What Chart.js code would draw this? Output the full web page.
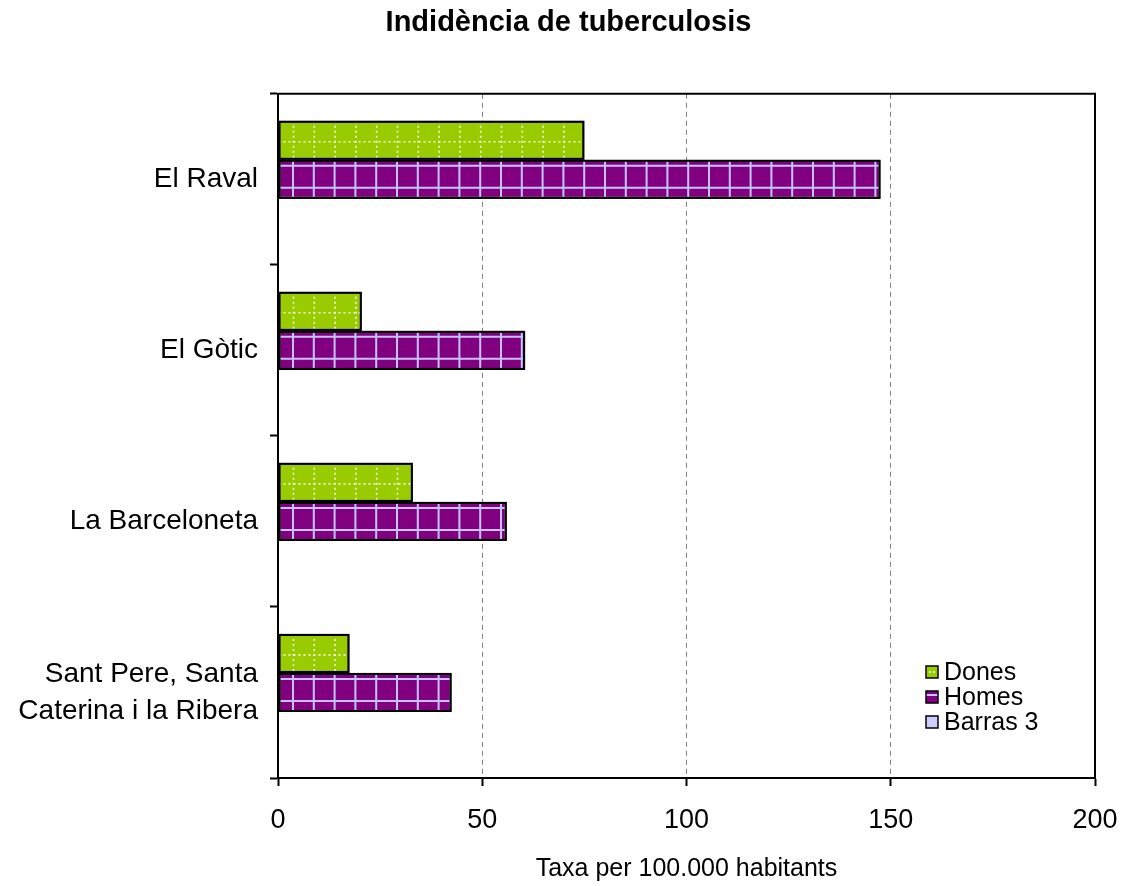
<!DOCTYPE html>
<html>
<head>
<meta charset="utf-8">
<title>Indidència de tuberculosis</title>
<script src="https://cdn.jsdelivr.net/npm/chart.js@4.4.1/dist/chart.umd.min.js"></script>
<style>
  body { margin: 0; background: #fff; }
  #wrap { width: 1122px; height: 886px; }
</style>
</head>
<body>
<div id="wrap"><canvas id="myChart" width="1122" height="886"></canvas></div>
<script>
const barris = [
  "El Raval",
  "El Gòtic",
  "La Barceloneta",
  ["Sant Pere, Santa", "Caterina i la Ribera"],
];
const dones = [75, 20.5, 33, 17.5];
const homes = [147.5, 60.5, 56, 42.5];
const barras3 = [null, null, null, null];
const xTicks = [0, 50, 100, 150, 200];

Chart.defaults.font.family = "'Liberation Sans', Arial, sans-serif";
Chart.defaults.color = "#000";

// patró de quadrícula sobre les barres (com a l'original d'Excel)
const texture = {
  id: "texture",
  afterLayout(chart) {
    // el títol original està una mica desplaçat cap a la dreta
    if (chart.titleBlock) chart.titleBlock.left = 42;
  },
  afterDatasetDraw(chart, args) {
    if (args.index > 1) return;
    const ctx = chart.ctx;
    const area = chart.chartArea;
    args.meta.data.forEach((bar) => {
      const p = bar.getProps(["x", "y", "base", "height"], true);
      const left = Math.min(p.base, p.x);
      const right = Math.max(p.base, p.x);
      const top = p.y - p.height / 2;
      const bottom = p.y + p.height / 2;
      ctx.save();
      ctx.beginPath();
      ctx.rect(left + 1.5, top + 1.5, right - left - 3, bottom - top - 3);
      ctx.clip();
      if (args.index === 0) {
        ctx.strokeStyle = "rgba(255,255,235,0.9)";
        ctx.lineWidth = 1.6;
        ctx.setLineDash([2, 3]);
        for (let x = area.left + 15.5; x < right; x += 20.8) {
          ctx.beginPath();
          ctx.moveTo(x, top);
          ctx.lineTo(x, bottom);
          ctx.stroke();
        }
        ctx.beginPath();
        ctx.moveTo(left, top + 21);
        ctx.lineTo(right, top + 21);
        ctx.stroke();
      } else {
        ctx.strokeStyle = "#C4C4FF";
        ctx.lineWidth = 2;
        for (let x = area.left + 15; x < right; x += 20.8) {
          ctx.beginPath();
          ctx.moveTo(x, top);
          ctx.lineTo(x, bottom);
          ctx.stroke();
        }
        [6, 28].forEach((d) => {
          ctx.beginPath();
          ctx.moveTo(left, top + d);
          ctx.lineTo(right, top + d);
          ctx.stroke();
        });
      }
      ctx.restore();
      ctx.save();
      ctx.strokeStyle = "#000";
      ctx.lineWidth = 2;
      ctx.strokeRect(left + 1, top + 1, right - left - 2, bottom - top - 2);
      ctx.restore();
    });
  },
};

// marc superior i dret + llegenda dins l'àrea
const frame = {
  id: "frame",
  afterDraw(chart) {
    const ctx = chart.ctx;
    const a = chart.chartArea;
    ctx.save();
    ctx.strokeStyle = "#000";
    ctx.lineWidth = 2;
    ctx.beginPath();
    ctx.moveTo(a.left, a.top);
    ctx.lineTo(a.right, a.top);
    ctx.lineTo(a.right, a.bottom);
    ctx.stroke();

    ctx.font = "25px 'Liberation Sans', Arial, sans-serif";
    ctx.textBaseline = "middle";
    ctx.textAlign = "left";
    chart.data.datasets.forEach((ds, i) => {
      const cy = a.bottom - 106 + i * 25;
      const bx = a.right - 169;
      ctx.fillStyle = ds.legendColor;
      ctx.fillRect(bx, cy - 6, 12, 12);
      if (i === 0) {
        ctx.fillStyle = "#E8F5B0";
        ctx.fillRect(bx + 3, cy - 1, 2, 2);
        ctx.fillRect(bx + 7, cy - 1, 2, 2);
      } else if (i === 1) {
        ctx.fillStyle = "#C4C4FF";
        ctx.fillRect(bx, cy - 3, 12, 2);
      }
      ctx.strokeStyle = "#000";
      ctx.lineWidth = 1.5;
      ctx.strokeRect(bx, cy - 6, 12, 12);
      ctx.fillStyle = "#000";
      ctx.fillText(ds.label, bx + 18, cy + 1);
    });
    ctx.restore();
  },
};

new Chart("myChart", {
  type: "bar",
  data: {
    labels: barris,
    datasets: [
      {
        label: "Dones",
        data: dones,
        backgroundColor: "#99CC00",
        legendColor: "#99CC00",
        borderColor: "#000",
        borderWidth: 2,
        borderSkipped: false,
      },
      {
        label: "Homes",
        data: homes,
        backgroundColor: "#800080",
        legendColor: "#800080",
        borderColor: "#000",
        borderWidth: 2,
        borderSkipped: false,
      },
      {
        label: "Barras 3",
        data: barras3,
        backgroundColor: "#CCCCFF",
        legendColor: "#CCCCFF",
        borderColor: "#000",
        borderWidth: 2,
      },
    ],
  },
  options: {
    indexAxis: "y",
    responsive: false,
    animation: false,
    datasets: {
      bar: { categoryPercentage: 0.685, barPercentage: 1 },
    },
    layout: { padding: { left: 0, right: 27, top: 0, bottom: 0 } },
    plugins: {
      legend: { display: false },
      tooltip: { enabled: false },
      title: {
        display: true,
        text: "Indidència de tuberculosis",
        color: "#000",
        font: { size: 29, weight: "bold" },
        padding: { top: 6, bottom: 53 },
      },
    },
    scales: {
      x: {
        min: 0,
        max: 200,
        afterBuildTicks: (scale) => {
          scale.ticks = xTicks.map((v) => ({ value: v }));
        },
        afterFit: (scale) => {
          scale.height = 108;
          scale.paddingLeft = 0;
          scale.paddingRight = 0;
        },
        grid: {
          color: "#808080",
          lineWidth: 1,
          tickColor: "#000",
          tickWidth: 2,
          tickLength: 8,
        },
        border: { display: true, color: "#000", width: 2, dash: [5, 4] },
        ticks: { color: "#000", font: { size: 27 }, padding: 18 },
        title: {
          display: true,
          text: "Taxa per 100.000 habitants",
          color: "#000",
          font: { size: 25 },
          padding: { top: 0, bottom: 2 },
        },
      },
      y: {
        afterFit: (scale) => {
          scale.width = 278;
        },
        grid: {
          offset: true,
          drawOnChartArea: false,
          tickColor: "#000",
          tickWidth: 2,
          tickLength: 8,
        },
        border: { display: true, color: "#000", width: 2 },
        ticks: {
          color: "#000",
          font: { size: 28, lineHeight: 1.32 },
          padding: 12,
        },
      },
    },
  },
  plugins: [texture, frame],
});
</script>
</body>
</html>
